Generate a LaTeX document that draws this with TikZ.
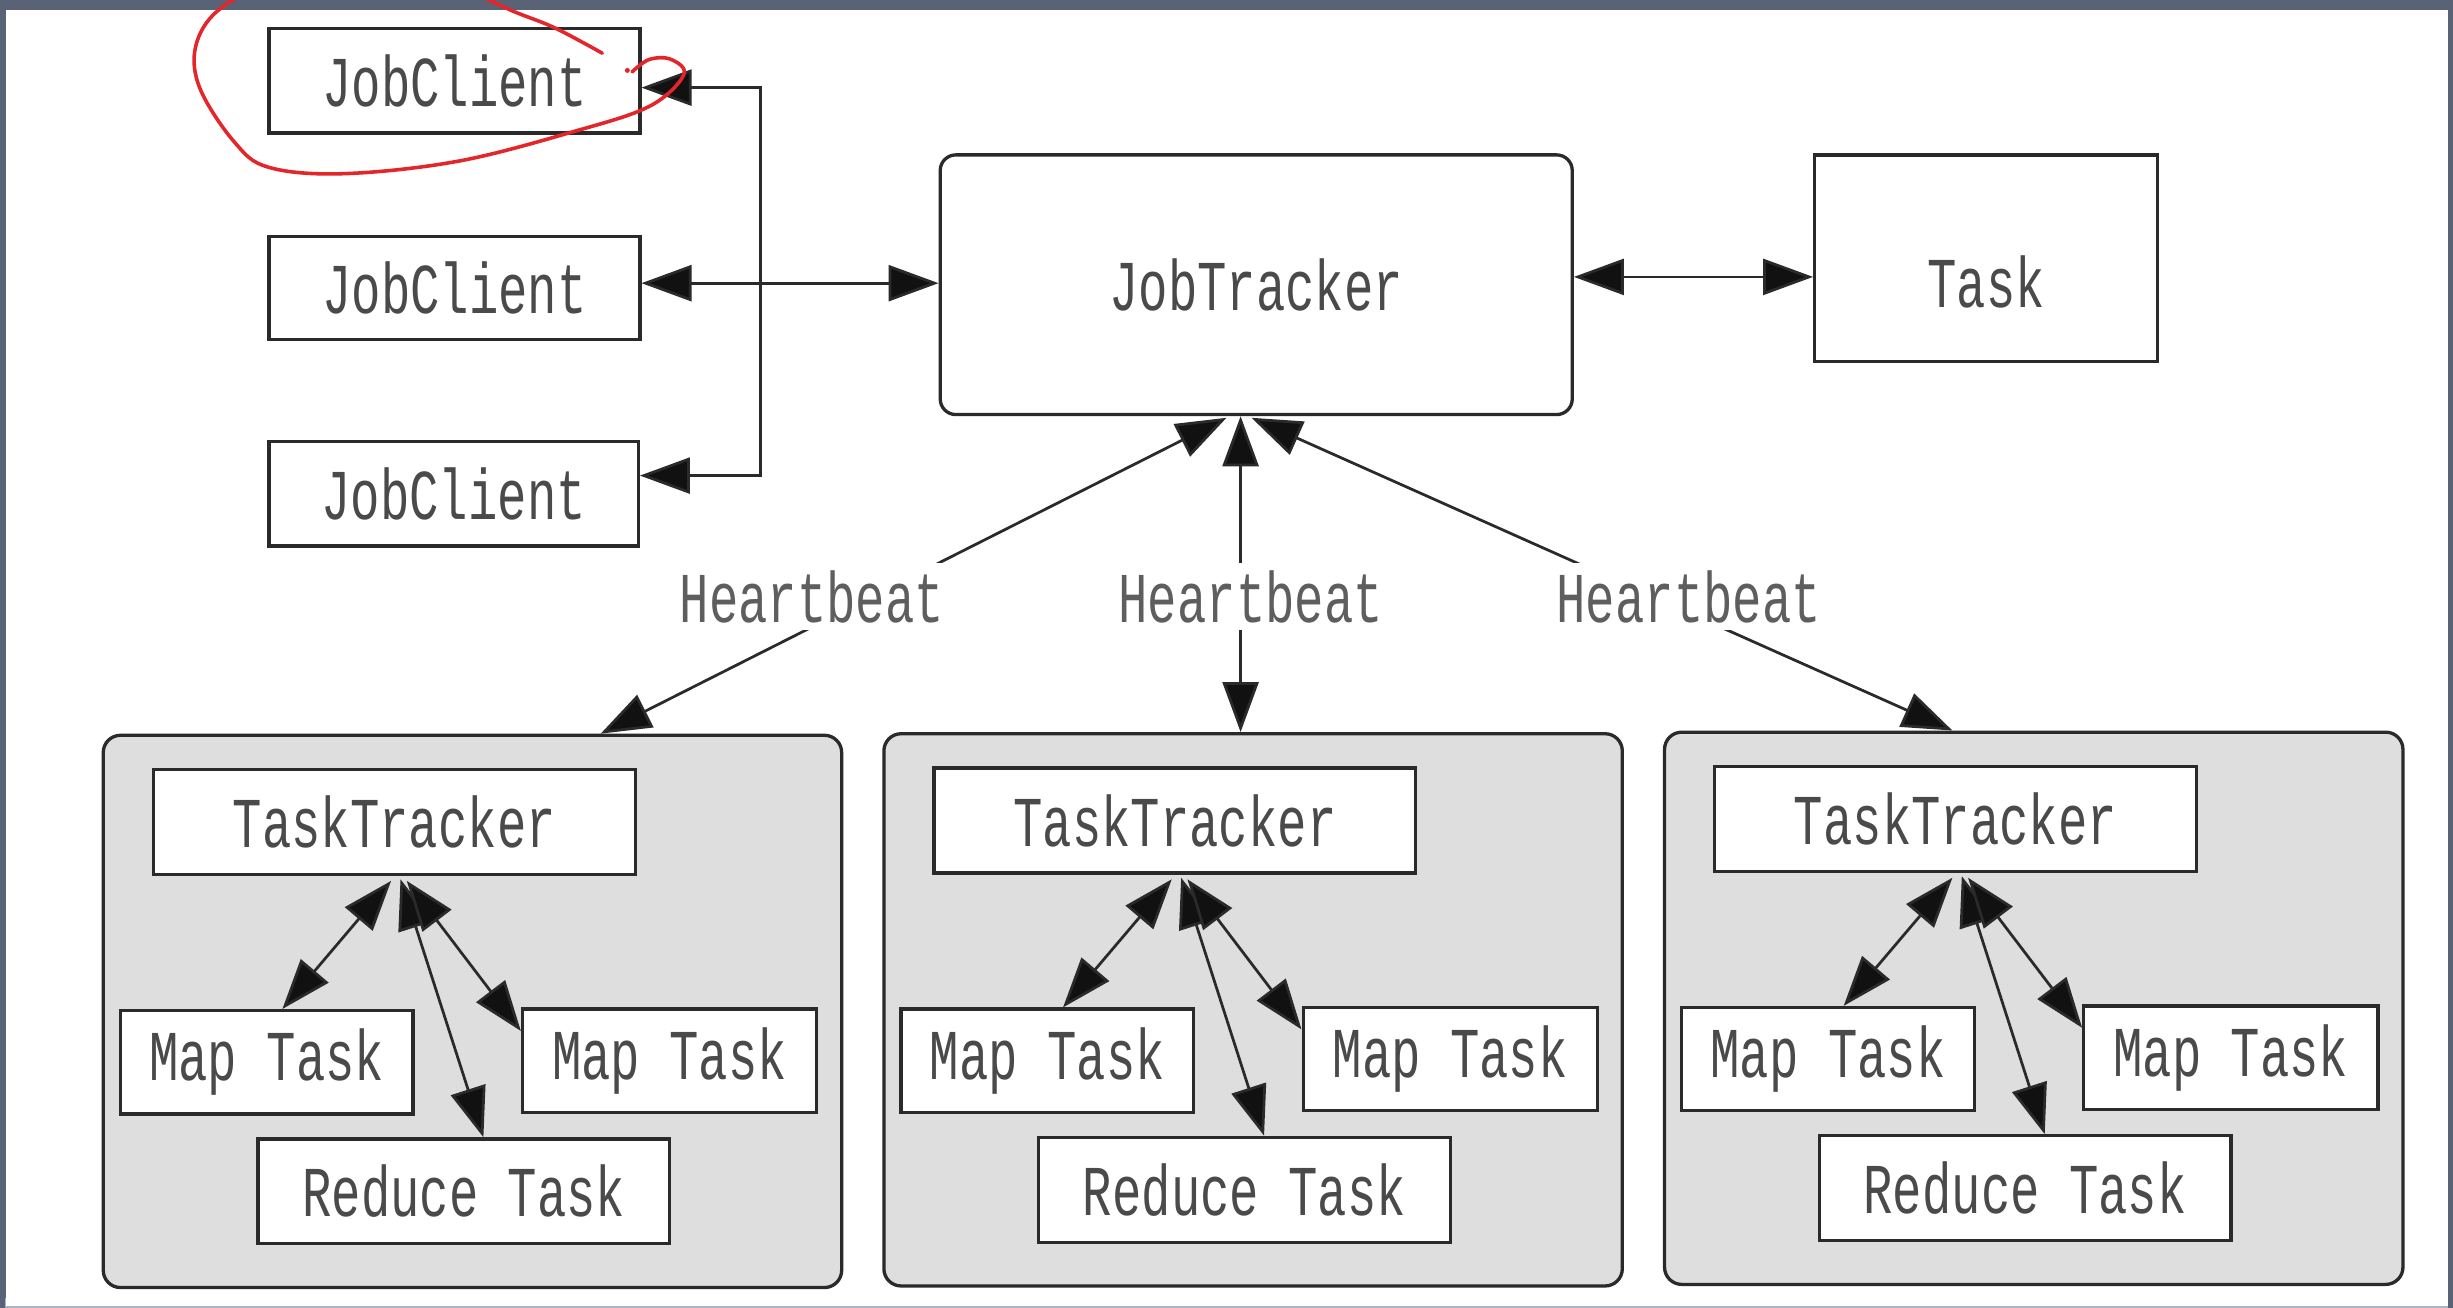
\documentclass[tikz,border=0pt]{standalone}
\usepackage{fontspec}
\newfontfamily\diafont[FakeStretch=0.685]{Liberation Mono}
\usetikzlibrary{arrows.meta,calc}
\definecolor{framec}{HTML}{5A6276}
\definecolor{framelow}{HTML}{AAB4C8}
\definecolor{linec}{HTML}{2A2A2A}
\definecolor{tipc}{HTML}{111111}
\definecolor{txtc}{HTML}{4A4A4A}
\definecolor{hbc}{HTML}{5E5E5E}
\definecolor{grpc}{HTML}{DEDEDE}
\definecolor{penred}{HTML}{E2262A}
\begin{document}
\begin{tikzpicture}[x=0.02cm,y=-0.02cm,
  >={Triangle[length=0.64cm,width=0.46cm,fill=tipc]},
  sz/.style 2 args={minimum width=#1*0.02cm, minimum height=#2*0.02cm},
  box/.style={draw=linec, line width=1.2pt, fill=white, inner sep=0pt,
    font=\diafont\fontsize{26}{30}\selectfont, text=txtc},
  rbox/.style={box, rounded corners=0.2cm},
  grp/.style={draw=linec, line width=1.2pt, fill=grpc, rounded corners=0.22cm, inner sep=0pt},
  hb/.style={fill=white, inner sep=0pt, minimum height=43*0.02cm,
    font=\diafont\fontsize{26}{30}\selectfont, text=hbc},
  con/.style={draw=linec, line width=1pt},
  pen/.style={draw=penred, line width=1.3pt, line cap=round, line join=round}
]
\useasboundingbox (0,0) rectangle (1568,836);
% frame
\fill[framec] (0,0) rectangle (1568,836);
\fill[framelow] (3,830) rectangle (1565,836);
\fill[white] (4,6.5) rectangle (1564.5,834.5);

% top row
\node[box, sz={237}{67}] (jc1) at (290.5,51.5) {JobClient};
\node[box, sz={237}{66}] (jc2) at (290.5,184) {JobClient};
\node[box, sz={236}{67}] (jc3) at (290,315.5) {JobClient};
\node[rbox, sz={404}{166}] (jt) at (803,182) {JobTracker};
\node[box, sz={219}{132}, label={[box, draw=none, fill=none, yshift=-15*0.02cm]center:Task}] (task) at (1269.5,165) {};

\coordinate (b1) at (486,56);
\coordinate (b2) at (486,181);
\coordinate (b3) at (486,304);
\coordinate (ja) at (1080,177);
\draw[con,<->] (jc1.east |- b1) -- (b1) -- (b3) -- (jc3.east |- b3);
\draw[con,<->] (jc2.east |- b2) -- (jt.west |- b2);
\draw[con,<->] (jt.east |- ja) -- (task.west |- ja);

% groups
\foreach \i/\dx/\dy in {1/0/0, 2/499/-1, 3/998/-2}{
  \begin{scope}[shift={(\dx,\dy)}]
    \node[grp, sz={472}{353}] (g\i) at (302,646.5) {};
    \node[box, sz={308}{67}] (tt\i) at (252,525.5) {TaskTracker};
    \node[box, sz={187}{66}] (ml\i) at (170.5,679) {Map Task};
    \node[box, sz={188}{66}] (mr\i) at (428,678) {Map Task};
    \node[box, sz={263}{67}] (rd\i) at (296.5,761.5) {Reduce Task};
    \draw[con,<->] ($(tt\i.south)+(-2,3)$) -- ($(ml\i.north)+(10,0)$);
    \draw[con,<->] ($(tt\i.south)+(4,2)$) -- ($(rd\i.north)+(12.5,0)$);
    \draw[con,<->] ($(tt\i.south)+(8,3)$) -- ($(mr\i.west)+(0,-19)$);
  \end{scope}
}

% heartbeats
\draw[con,<->] ($(jt.south)+(-19,1)$) -- ($(g1.north)+(82,0)$);
\draw[con,<->] ($(jt.south)+(-10,0)$) -- ($(g2.north)+(-8,0)$);
\draw[con,<->] ($(jt.south)+(-3,1)$) -- ($(g3.north)+(-52,0)$);
\node[hb] (hb1) at (519,381.5) {Heartbeat};
\node[hb] (hb2) at (799.5,381.5) {Heartbeat};
\node[hb] (hb3) at (1079.5,381.5) {Heartbeat};

% red annotation
\begin{scope}
  \clip (0,0) rectangle (1568,836);
  \draw[pen] plot[smooth, tension=0.6] coordinates {
    (385,34) (355,18) (330,8) (290,-8) (230,-14) (170,-8) (139,7) (125,30)
    (128,57) (150,91) (172,107) (220,111) (293,103) (367,84) (415,68)
    (437,48) (429,38) (415,38) (404,46)};
  \fill[penred] (401,45) circle (1.6);
\end{scope}
\end{tikzpicture}
\end{document}
